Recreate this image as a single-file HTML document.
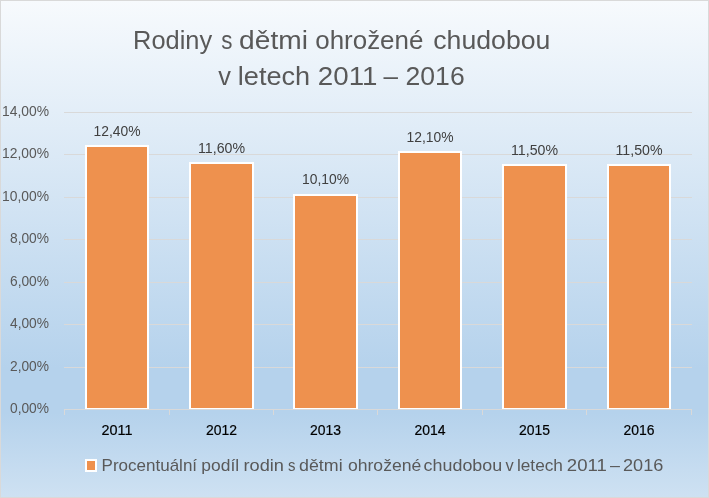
<!DOCTYPE html>
<html><head><meta charset="utf-8"><style>
html,body{margin:0;padding:0;width:709px;height:498px;overflow:hidden;background:#fff}
svg{display:block;will-change:transform}
text{font-family:"Liberation Sans",sans-serif}
</style></head><body>
<svg width="709" height="498" viewBox="0 0 709 498">
<defs><linearGradient id="bg" x1="0" y1="0" x2="0" y2="1">
<stop offset="0" stop-color="#F7FAFD"/><stop offset="0.74" stop-color="#B5D2EC"/>
<stop offset="0.83" stop-color="#B5D2EC"/><stop offset="1" stop-color="#CEE1F2"/>
</linearGradient></defs>
<rect x="0.5" y="0.5" width="708" height="497" fill="url(#bg)" stroke="#D9D9D9" stroke-width="1"/>
<rect x="64" y="112" width="628" height="1" fill="#D9D9D9"/>
<rect x="64" y="154" width="628" height="1" fill="#D9D9D9"/>
<rect x="64" y="197" width="628" height="1" fill="#D9D9D9"/>
<rect x="64" y="239" width="628" height="1" fill="#D9D9D9"/>
<rect x="64" y="282" width="628" height="1" fill="#D9D9D9"/>
<rect x="64" y="324" width="628" height="1" fill="#D9D9D9"/>
<rect x="64" y="367" width="628" height="1" fill="#D9D9D9"/>
<rect x="85" y="145" width="64" height="264" fill="#fff"/><rect x="87" y="147" width="60" height="261" fill="#EE914E"/>
<rect x="189" y="162" width="65" height="247" fill="#fff"/><rect x="191" y="164" width="61" height="244" fill="#EE914E"/>
<rect x="293" y="194" width="65" height="215" fill="#fff"/><rect x="295" y="196" width="61" height="212" fill="#EE914E"/>
<rect x="398" y="151" width="64" height="258" fill="#fff"/><rect x="400" y="153" width="60" height="255" fill="#EE914E"/>
<rect x="502" y="164" width="65" height="245" fill="#fff"/><rect x="504" y="166" width="61" height="242" fill="#EE914E"/>
<rect x="607" y="164" width="64" height="245" fill="#fff"/><rect x="609" y="166" width="60" height="242" fill="#EE914E"/>
<rect x="64" y="409" width="628" height="1" fill="#D9D9D9"/>
<rect x="64" y="409" width="1" height="6" fill="#D9D9D9"/>
<rect x="169" y="409" width="1" height="6" fill="#D9D9D9"/>
<rect x="273" y="409" width="1" height="6" fill="#D9D9D9"/>
<rect x="377" y="409" width="1" height="6" fill="#D9D9D9"/>
<rect x="482" y="409" width="1" height="6" fill="#D9D9D9"/>
<rect x="586" y="409" width="1" height="6" fill="#D9D9D9"/>
<rect x="691" y="409" width="1" height="6" fill="#D9D9D9"/>
<text x="133.06" y="49" font-size="26.2" fill="#595959" textLength="79.05" lengthAdjust="spacingAndGlyphs" text-anchor="start">Rodiny</text>
<text x="221.15" y="49" font-size="26.2" fill="#595959" textLength="11.19" lengthAdjust="spacingAndGlyphs" text-anchor="start">s</text>
<text x="239.13" y="49" font-size="26.2" fill="#595959" textLength="68.77" lengthAdjust="spacingAndGlyphs" text-anchor="start">dětmi</text>
<text x="315.21" y="49" font-size="26.2" fill="#595959" textLength="108.18" lengthAdjust="spacingAndGlyphs" text-anchor="start">ohrožené</text>
<text x="433.28" y="49" font-size="26.2" fill="#595959" textLength="117.1" lengthAdjust="spacingAndGlyphs" text-anchor="start">chudobou</text>
<text x="218.3" y="85" font-size="26.2" fill="#595959" textLength="12.69" lengthAdjust="spacingAndGlyphs" text-anchor="start">v</text>
<text x="237.83" y="85" font-size="26.2" fill="#595959" textLength="72.33" lengthAdjust="spacingAndGlyphs" text-anchor="start">letech</text>
<text x="317.84" y="85" font-size="26.2" fill="#595959" textLength="59.55" lengthAdjust="spacingAndGlyphs" text-anchor="start">2011</text>
<text x="383.6" y="85" font-size="26.2" fill="#595959" textLength="14.48" lengthAdjust="spacingAndGlyphs" text-anchor="start">–</text>
<text x="405.59" y="85" font-size="26.2" fill="#595959" textLength="59.1" lengthAdjust="spacingAndGlyphs" text-anchor="start">2016</text>
<text x="101.57" y="471" font-size="16.6" fill="#595959" textLength="95.5" lengthAdjust="spacingAndGlyphs" text-anchor="start">Procentuální</text>
<text x="201.35" y="471" font-size="16.6" fill="#595959" textLength="37.78" lengthAdjust="spacingAndGlyphs" text-anchor="start">podíl</text>
<text x="243.5" y="471" font-size="16.6" fill="#595959" textLength="40.49" lengthAdjust="spacingAndGlyphs" text-anchor="start">rodin</text>
<text x="288.0" y="471" font-size="16.6" fill="#595959" textLength="7.47" lengthAdjust="spacingAndGlyphs" text-anchor="start">s</text>
<text x="299.03" y="471" font-size="16.6" fill="#595959" textLength="43.6" lengthAdjust="spacingAndGlyphs" text-anchor="start">dětmi</text>
<text x="347.94" y="471" font-size="16.6" fill="#595959" textLength="73.33" lengthAdjust="spacingAndGlyphs" text-anchor="start">ohrožené</text>
<text x="423.62" y="471" font-size="16.6" fill="#595959" textLength="78.55" lengthAdjust="spacingAndGlyphs" text-anchor="start">chudobou</text>
<text x="505.5" y="471" font-size="16.6" fill="#595959" textLength="8.19" lengthAdjust="spacingAndGlyphs" text-anchor="start">v</text>
<text x="516.96" y="471" font-size="16.6" fill="#595959" textLength="45.97" lengthAdjust="spacingAndGlyphs" text-anchor="start">letech</text>
<text x="566.88" y="471" font-size="16.6" fill="#595959" textLength="39.99" lengthAdjust="spacingAndGlyphs" text-anchor="start">2011</text>
<text x="609.9" y="471" font-size="16.6" fill="#595959" textLength="9.95" lengthAdjust="spacingAndGlyphs" text-anchor="start">–</text>
<text x="623.01" y="471" font-size="16.6" fill="#595959" textLength="40.3" lengthAdjust="spacingAndGlyphs" text-anchor="start">2016</text>
<text x="49" y="413" font-size="14.2" fill="#595959" textLength="39" lengthAdjust="spacingAndGlyphs" text-anchor="end">0,00%</text>
<text x="49" y="371" font-size="14.2" fill="#595959" textLength="39" lengthAdjust="spacingAndGlyphs" text-anchor="end">2,00%</text>
<text x="49" y="328" font-size="14.2" fill="#595959" textLength="39" lengthAdjust="spacingAndGlyphs" text-anchor="end">4,00%</text>
<text x="49" y="286" font-size="14.2" fill="#595959" textLength="39" lengthAdjust="spacingAndGlyphs" text-anchor="end">6,00%</text>
<text x="49" y="243" font-size="14.2" fill="#595959" textLength="39" lengthAdjust="spacingAndGlyphs" text-anchor="end">8,00%</text>
<text x="49" y="201" font-size="14.2" fill="#595959" textLength="47" lengthAdjust="spacingAndGlyphs" text-anchor="end">10,00%</text>
<text x="49" y="158" font-size="14.2" fill="#595959" textLength="47" lengthAdjust="spacingAndGlyphs" text-anchor="end">12,00%</text>
<text x="49" y="116" font-size="14.2" fill="#595959" textLength="47" lengthAdjust="spacingAndGlyphs" text-anchor="end">14,00%</text>
<text x="117.0" y="136" font-size="14.1" fill="#404040" textLength="47" lengthAdjust="spacingAndGlyphs" text-anchor="middle">12,40%</text>
<text x="221.5" y="153" font-size="14.1" fill="#404040" textLength="47" lengthAdjust="spacingAndGlyphs" text-anchor="middle">11,60%</text>
<text x="325.5" y="184" font-size="14.1" fill="#404040" textLength="47" lengthAdjust="spacingAndGlyphs" text-anchor="middle">10,10%</text>
<text x="430.0" y="142" font-size="14.1" fill="#404040" textLength="47" lengthAdjust="spacingAndGlyphs" text-anchor="middle">12,10%</text>
<text x="534.5" y="155" font-size="14.1" fill="#404040" textLength="47" lengthAdjust="spacingAndGlyphs" text-anchor="middle">11,50%</text>
<text x="639.0" y="155" font-size="14.1" fill="#404040" textLength="47" lengthAdjust="spacingAndGlyphs" text-anchor="middle">11,50%</text>
<text x="117.0" y="435" font-size="14.5" fill="#000000" stroke="#000000" stroke-width="0.2" textLength="31" lengthAdjust="spacingAndGlyphs" text-anchor="middle">2011</text>
<text x="221.5" y="435" font-size="14.5" fill="#000000" stroke="#000000" stroke-width="0.2" textLength="31" lengthAdjust="spacingAndGlyphs" text-anchor="middle">2012</text>
<text x="325.5" y="435" font-size="14.5" fill="#000000" stroke="#000000" stroke-width="0.2" textLength="31" lengthAdjust="spacingAndGlyphs" text-anchor="middle">2013</text>
<text x="430.0" y="435" font-size="14.5" fill="#000000" stroke="#000000" stroke-width="0.2" textLength="31" lengthAdjust="spacingAndGlyphs" text-anchor="middle">2014</text>
<text x="534.5" y="435" font-size="14.5" fill="#000000" stroke="#000000" stroke-width="0.2" textLength="31" lengthAdjust="spacingAndGlyphs" text-anchor="middle">2015</text>
<text x="639.0" y="435" font-size="14.5" fill="#000000" stroke="#000000" stroke-width="0.2" textLength="31" lengthAdjust="spacingAndGlyphs" text-anchor="middle">2016</text>
<rect x="85" y="459" width="12" height="13" fill="#fff"/><rect x="87" y="461" width="8" height="9" fill="#EE914E"/>
</svg>
</body></html>
